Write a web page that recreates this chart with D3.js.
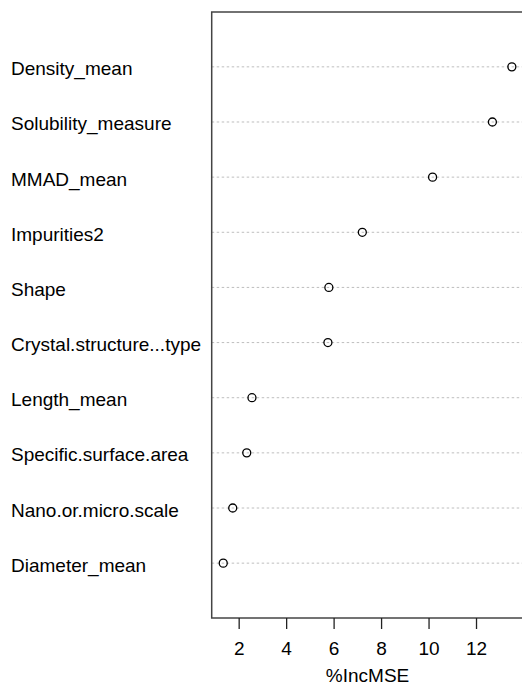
<!DOCTYPE html>
<html>
<head>
<meta charset="utf-8">
<script src="https://cdn.jsdelivr.net/npm/d3@7"></script>
<style>
  body { margin: 0; background: #fff; }
  text { font-family: "Liberation Sans", Arial, sans-serif; fill: #000; }
</style>
</head>
<body>
<div id="chart"></div>
<script>
// variable importance (%IncMSE), top to bottom
var variables = ["Density_mean", "Solubility_measure", "MMAD_mean", "Impurities2", "Shape",
    "Crystal.structure...type", "Length_mean", "Specific.surface.area", "Nano.or.micro.scale", "Diameter_mean"];
var incMSE = [13.51, 12.69, 10.17, 7.21, 5.80, 5.76, 2.56, 2.34, 1.75, 1.35];
var xTicks = [2, 4, 6, 8, 10, 12];
var xTitle = "%IncMSE";

var width = 522, height = 686;
var box = { left: 211.7, top: 12, right: 523.4, bottom: 618 };

var svg = d3.select("#chart").append("svg")
    .attr("width", width)
    .attr("height", height);

// R style 4% padding on x
var lo = d3.min(incMSE), hi = d3.max(incMSE), pad = (hi - lo) * 0.04;
var x = d3.scaleLinear()
    .domain([lo - pad, hi + pad])
    .range([box.left, box.right]);

// rows at 1..n
var y = d3.scaleLinear()
    .domain([0, variables.length + 1])
    .range([box.top - 0.3, box.bottom + 0.3]);

// dotted guide lines
svg.selectAll("line.guide")
    .data(variables)
    .enter().append("line")
    .attr("class", "guide")
    .attr("x1", box.left)
    .attr("x2", box.right)
    .attr("y1", function(d, i) { return y(i + 1); })
    .attr("y2", function(d, i) { return y(i + 1); })
    .attr("stroke", "#bebebe")
    .attr("stroke-width", 1)
    .attr("stroke-dasharray", "2.5,2.5");

// labels on the left
svg.selectAll("text.label")
    .data(variables)
    .enter().append("text")
    .attr("class", "label")
    .attr("x", 11)
    .attr("y", function(d, i) { return y(i + 1) + 8.5; })
    .style("font-size", "19px")
    .text(function(d) { return d; });

// points
svg.selectAll("circle")
    .data(incMSE)
    .enter().append("circle")
    .attr("cx", function(d) { return x(d); })
    .attr("cy", function(d, i) { return y(i + 1); })
    .attr("r", 4)
    .attr("fill", "none")
    .attr("stroke", "#000")
    .attr("stroke-width", 1.3);

// plot box
svg.append("rect")
    .attr("x", box.left)
    .attr("y", box.top)
    .attr("width", box.right - box.left)
    .attr("height", box.bottom - box.top)
    .attr("fill", "none")
    .attr("stroke", "#444")
    .attr("stroke-width", 1.5);

// x axis
var axis = svg.append("g")
    .attr("transform", "translate(0," + box.bottom + ")")
    .call(d3.axisBottom(x).tickValues(xTicks).tickSize(11).tickPadding(13).tickFormat(d3.format("d")));
axis.select(".domain").remove();
axis.selectAll(".tick line").attr("stroke", "#222").attr("stroke-width", 1.3);
axis.selectAll(".tick text")
    .style("font-size", "19px")
    .style("font-family", "'Liberation Sans', Arial, sans-serif")
    .attr("fill", "#000");

svg.append("text")
    .attr("x", x(hi / 2 + lo / 2))
    .attr("y", 682)
    .attr("text-anchor", "middle")
    .style("font-size", "19px")
    .text(xTitle);
</script>
</body>
</html>
